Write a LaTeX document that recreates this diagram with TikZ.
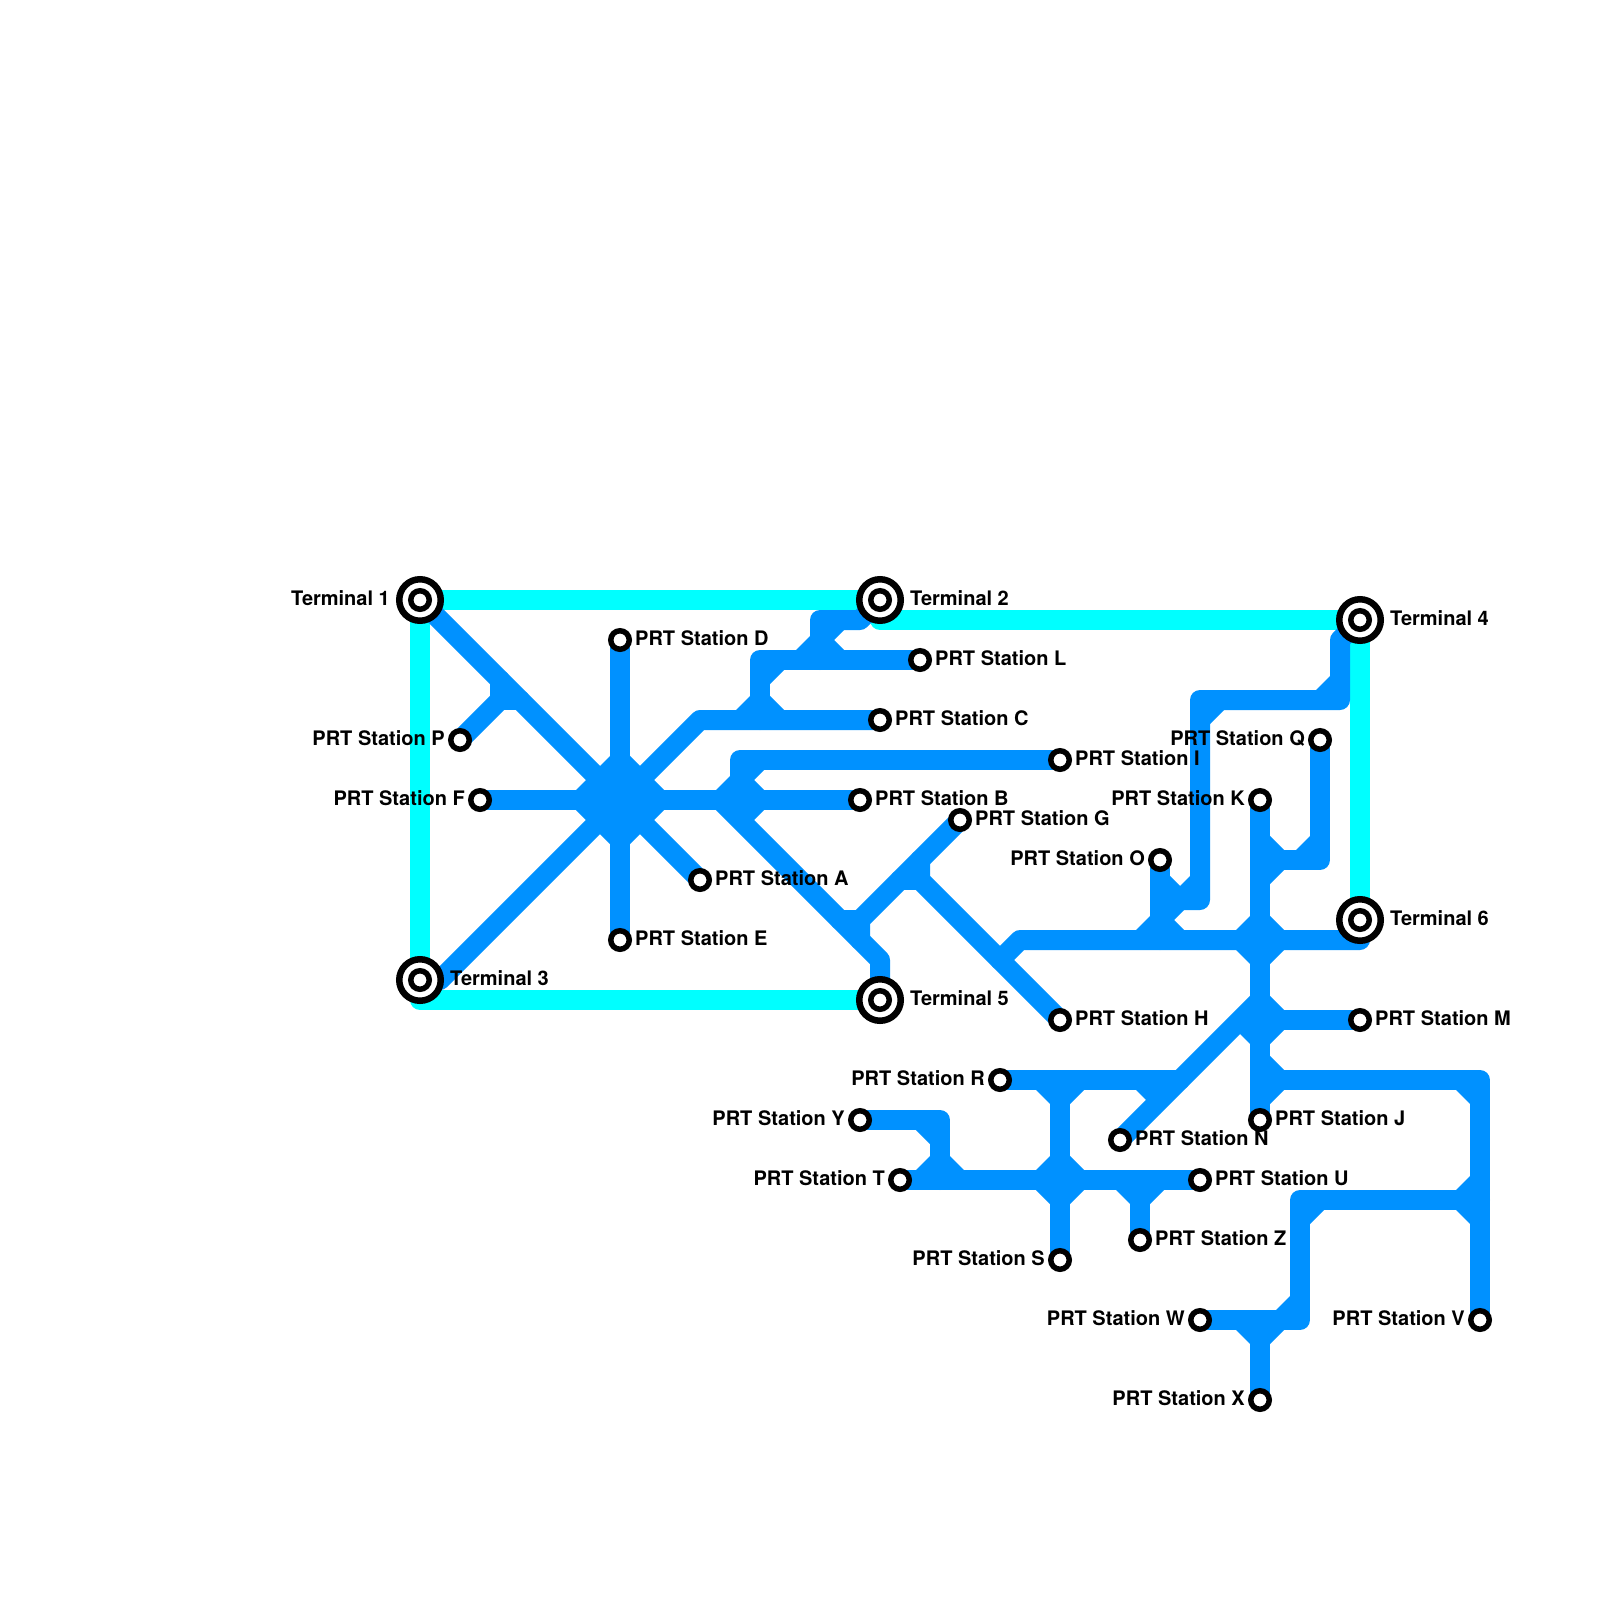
\documentclass[tikz,border=0pt]{standalone}
\usepackage{fontspec}
\setmainfont{TeX Gyre Heros}
\pgfdeclarelayer{cyanlayer}
\pgfdeclarelayer{bluelayer}
\pgfsetlayers{cyanlayer,bluelayer,main}
\definecolor{linecyan}{RGB}{0,255,255}
\definecolor{lineblue}{RGB}{0,145,255}
\tikzset{
  stationdot/.style={circle,draw=black,fill=white,line width=5.5pt,minimum size=18.5pt,inner sep=0pt},
  terminalring/.style={circle,draw=black,fill=white,line width=6.5pt,minimum size=41.5pt,inner sep=0pt},
  namelabel/.style={font=\fontsize{20}{24}\selectfont\bfseries,inner sep=0pt,text=black},
  rightname/.style={namelabel,anchor=base west},
  leftname/.style={namelabel,anchor=base east},
  cyanline/.style={draw=linecyan,line width=20pt,line join=round,line cap=round},
  blueline/.style={draw=lineblue,line width=20pt,line join=round,line cap=round},
}
% quadrant fillet at a track junction
\newcommand{\fillet}[4]{\fill[lineblue] (#1,#2) -- ++(#3*34,0) -- (#1,#2+#4*34) -- cycle;}
\newcommand{\stationR}[4]{\node[stationdot] (s#1) at (#2,#3) {};
  \node[rightname] (n#1) at (#2+15,#3+5) {#4};}
\newcommand{\stationL}[4]{\node[stationdot] (s#1) at (#2,#3) {};
  \node[leftname] (n#1) at (#2-15,#3+5) {#4};}
\newcommand{\terminalR}[4]{\node[terminalring] (t#1) at (#2,#3) {};
  \node[stationdot] (ti#1) at (#2,#3) {};
  \node[rightname] (n#1) at (#2+30,#3+5) {#4};}
\newcommand{\terminalL}[4]{\node[terminalring] (t#1) at (#2,#3) {};
  \node[stationdot] (ti#1) at (#2,#3) {};
  \node[leftname] (n#1) at (#2-30,#3+5) {#4};}
\begin{document}
\begin{tikzpicture}[x=1pt,y=-1pt]
\useasboundingbox (0,0) rectangle (1600,1600);

\terminalL{1}{420}{600}{Terminal 1}
\terminalR{2}{880}{600}{Terminal 2}
\terminalR{3}{420}{980}{Terminal 3}
\terminalR{4}{1360}{620}{Terminal 4}
\terminalR{5}{880}{1000}{Terminal 5}
\terminalR{6}{1360}{920}{Terminal 6}

\stationR{A}{700}{880}{PRT Station A}
\stationR{B}{860}{800}{PRT Station B}
\stationR{C}{880}{720}{PRT Station C}
\stationR{D}{620}{640}{PRT Station D}
\stationR{E}{620}{940}{PRT Station E}
\stationL{F}{480}{800}{PRT Station F}
\stationR{G}{960}{820}{PRT Station G}
\stationR{H}{1060}{1020}{PRT Station H}
\stationR{I}{1060}{760}{PRT Station I}
\stationR{J}{1260}{1120}{PRT Station J}
\stationL{K}{1260}{800}{PRT Station K}
\stationR{L}{920}{660}{PRT Station L}
\stationR{M}{1360}{1020}{PRT Station M}
\stationR{N}{1120}{1140}{PRT Station N}
\stationL{O}{1160}{860}{PRT Station O}
\stationL{P}{460}{740}{PRT Station P}
\stationL{Q}{1320}{740}{PRT Station Q}
\stationL{R}{1000}{1080}{PRT Station R}
\stationL{S}{1060}{1260}{PRT Station S}
\stationL{T}{900}{1180}{PRT Station T}
\stationR{U}{1200}{1180}{PRT Station U}
\stationL{V}{1480}{1320}{PRT Station V}
\stationL{W}{1200}{1320}{PRT Station W}
\stationL{X}{1260}{1400}{PRT Station X}
\stationL{Y}{860}{1120}{PRT Station Y}
\stationR{Z}{1140}{1240}{PRT Station Z}

\begin{pgfonlayer}{cyanlayer}
\fill[white] (0,0) rectangle (1600,1600);
\draw[cyanline] (t1.center) -- (t2.center);
\draw[cyanline] (t2.center) -- (880,620) -- (t4.center);
\draw[cyanline] (t1.center) -- (t3.center);
\draw[cyanline] (t3.center) -- (420,1000) -- (t5.center);
\draw[cyanline] (t4.center) -- (t6.center);
\end{pgfonlayer}

\begin{pgfonlayer}{bluelayer}
% central hub
\fill[lineblue] (620,746) -- (674,800) -- (620,854) -- (566,800) -- cycle;
\draw[blueline] (t1.center) -- (sA.center);
\draw[blueline] (t3.center) -- (440,980) -- (700,720) -- (sC.center);
\draw[blueline] (sF.center) -- (sB.center);
\draw[blueline] (sD.center) -- (sE.center);
% P branch
\draw[blueline] (sP.center) -- (500,700) -- (500,680);
\draw[blueline] (500,700) -- (520,700);
% C to L
\draw[blueline] (760,720) -- (760,660) -- (sL.center);
\fillet{760}{720}{-1}{-1}\fillet{760}{720}{1}{-1}\fillet{760}{660}{1}{1}
% T2 stub
\draw[blueline] (t2.center) -- (860,620) -- (820,620) -- (820,660);
\fillet{820}{620}{1}{1}\fillet{820}{660}{-1}{-1}\fillet{820}{660}{1}{-1}
% I line
\draw[blueline] (sI.center) -- (740,760) -- (740,800);
\fillet{740}{760}{1}{1}\fillet{740}{800}{-1}{-1}\fillet{740}{800}{1}{-1}\fillet{740}{800}{1}{1}
% Terminal 5 line
\draw[blueline] (720,800) -- (880,960) -- (t5.center);
% G branch
\draw[blueline] (sG.center) -- (860,920) -- (860,940);
\draw[blueline] (860,920) -- (840,920);
% H branch
\draw[blueline] (sH.center) -- (920,880) -- (920,860);
\draw[blueline] (920,880) -- (900,880);
% Terminal 6 line
\draw[blueline] (1000,960) -- (1020,940) -- (1360,940) -- (t6.center);
% Terminal 4 stub
\draw[blueline] (t4.center) -- (1340,640) -- (1340,700) -- (1200,700) -- (1200,900) -- (1160,900);
\fillet{1340}{700}{-1}{-1}\fillet{1200}{700}{1}{1}\fillet{1200}{900}{-1}{-1}
% O line
\draw[blueline] (sO.center) -- (1160,940);
\fillet{1160}{900}{1}{-1}\fillet{1160}{900}{1}{1}\fillet{1160}{940}{-1}{-1}\fillet{1160}{940}{1}{-1}
% K to J
\draw[blueline] (sK.center) -- (sJ.center);
% Q line
\draw[blueline] (sQ.center) -- (1320,860) -- (1260,860);
\fillet{1320}{860}{-1}{-1}\fillet{1260}{860}{1}{-1}\fillet{1260}{860}{1}{1}
\fillet{1260}{940}{-1}{-1}\fillet{1260}{940}{1}{-1}\fillet{1260}{940}{-1}{1}\fillet{1260}{940}{1}{1}
% M line
\draw[blueline] (1260,1020) -- (sM.center);
\fillet{1260}{1020}{1}{-1}\fillet{1260}{1020}{1}{1}\fillet{1260}{1020}{-1}{1}
% N and R lines
\draw[blueline,line cap=butt] (sN.center) -- (1260,1000);
\draw[blueline] (sR.center) -- (1180,1080);
\fillet{1160}{1080}{-1}{1}
\fillet{1060}{1080}{-1}{1}\fillet{1060}{1080}{1}{1}
% S line
\draw[blueline] (1060,1080) -- (sS.center);
% V line
\draw[blueline] (1260,1080) -- (1480,1080) -- (sV.center);
\fillet{1260}{1080}{1}{-1}\fillet{1260}{1080}{1}{1}\fillet{1480}{1080}{-1}{1}
% W line
\draw[blueline] (1480,1200) -- (1300,1200) -- (1300,1320) -- (sW.center);
\fillet{1480}{1200}{-1}{-1}\fillet{1480}{1200}{-1}{1}\fillet{1300}{1200}{1}{1}\fillet{1300}{1320}{-1}{-1}
% X line
\draw[blueline] (1260,1320) -- (sX.center);
\fillet{1260}{1320}{-1}{1}\fillet{1260}{1320}{1}{1}
% Y line
\draw[blueline] (sY.center) -- (940,1120) -- (940,1180);
\fillet{940}{1120}{-1}{1}\fillet{940}{1180}{-1}{-1}\fillet{940}{1180}{1}{-1}
% T to U
\draw[blueline] (sT.center) -- (sU.center);
\fillet{1060}{1180}{-1}{-1}\fillet{1060}{1180}{1}{-1}\fillet{1060}{1180}{-1}{1}\fillet{1060}{1180}{1}{1}
% Z line
\draw[blueline] (1140,1180) -- (sZ.center);
\fillet{1140}{1180}{-1}{1}\fillet{1140}{1180}{1}{1}
\end{pgfonlayer}
\end{tikzpicture}
\end{document}
